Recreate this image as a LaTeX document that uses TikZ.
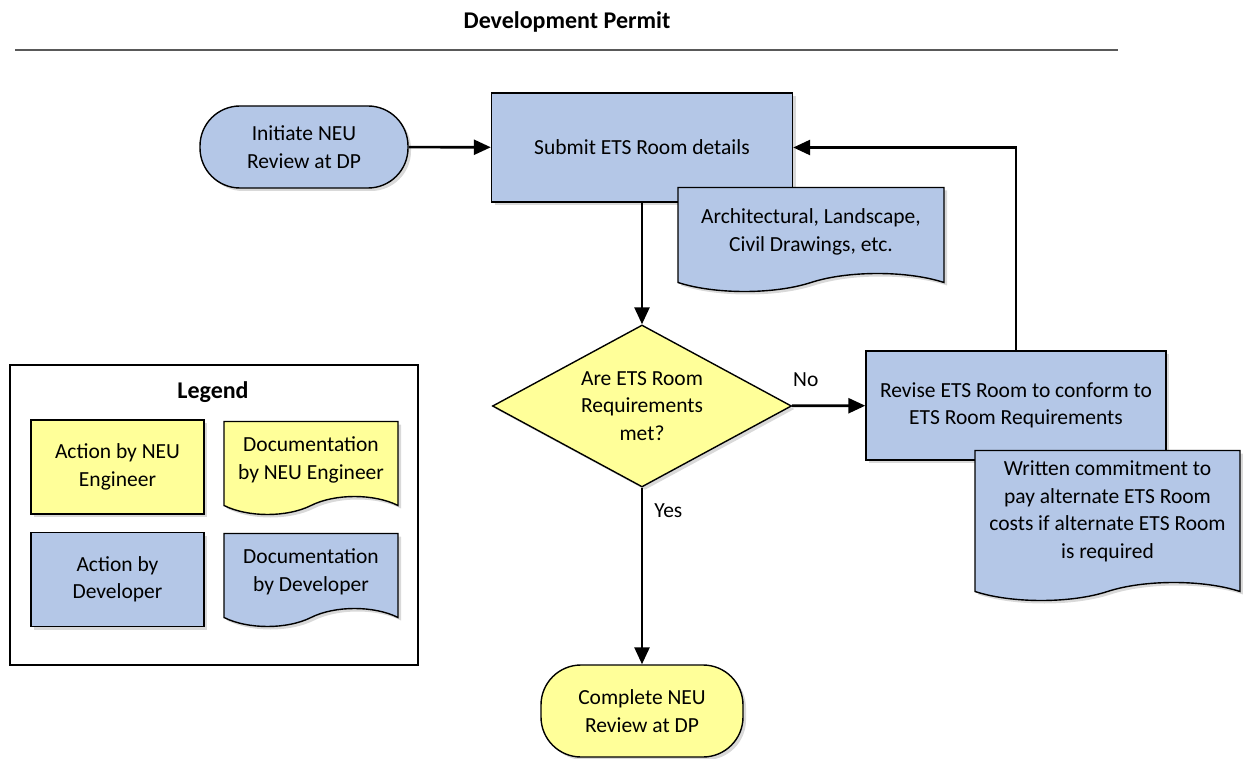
\documentclass[tikz,border=0pt]{standalone}
\usepackage{fontspec}
\setmainfont{Carlito}
\usetikzlibrary{arrows.meta,shapes.geometric,shapes.symbols,shadows}

\definecolor{devblue}{RGB}{180,199,231}
\definecolor{neuyellow}{RGB}{255,255,153}

\tikzset{
	txt/.style={font=\fontsize{21.5}{27.5}\selectfont, align=center},
	heading/.style={font=\fontsize{24}{29}\selectfont\bfseries},
	base/.style={txt, draw=black, line width=1.4pt, inner sep=2pt,
		drop shadow={shadow xshift=3pt, shadow yshift=-3pt, opacity=0.3}},
	action/.style={base, rectangle},
	terminal/.style={base, rectangle, rounded corners=40pt},
	docnode/.style={base, tape, tape bend top=none, tape bend bottom=in and out,
		tape bend height=18pt, text depth=#1},
	docnode/.default=2pt,
	decision/.style={base, diamond},
	flow/.style={line width=2.6pt, -{Triangle[length=17pt,width=15pt]}},
}

\begin{document}
\begin{tikzpicture}[x=1pt,y=1pt,yscale=-1]
	\useasboundingbox (0,0) rectangle (1243,759);

	% title
	\node[heading] (title) at (567,22) {Development Permit};
	\draw[line width=2pt, black!65] (15,50) -- (1118,50);

	% main flow
	\node[terminal, fill=devblue, minimum width=208pt, minimum height=82pt] (start) at (304,147) {Initiate NEU\\Review at DP};
	\node[action, fill=devblue, minimum width=301pt, minimum height=109pt] (submit) at (642,147.5) {Submit ETS Room details};
	\node[docnode=1pt, fill=devblue, minimum width=266pt, minimum height=104pt] (drawings) at (811,230.5) {Architectural, Landscape,\\Civil Drawings, etc.};
	\node[decision, fill=neuyellow, minimum width=299pt, minimum height=162pt,
		label={[txt]center:Are ETS Room\\Requirements\\met?}] (check) at (642,406) {};
	\node[action, fill=devblue, minimum width=300pt, minimum height=109pt] (revise) at (1016,405.5) {Revise ETS Room to conform to\\ETS Room Requirements};
	\node[docnode=14pt, fill=devblue, minimum width=265pt, minimum height=150pt] (commit) at (1107.5,516.5) {Written commitment to\\pay alternate ETS Room\\costs if alternate ETS Room\\is required};
	\node[terminal, fill=neuyellow, minimum width=202pt, minimum height=92pt] (finish) at (642,711) {Complete NEU\\Review at DP};

	% connectors
	\draw[flow] (start) -- (submit);
	\draw[flow] (submit) -- (check);
	\draw[flow] (check) -- node[txt, pos=0, anchor=south west, inner xsep=0pt, inner ysep=18pt] {No} (revise);
	\draw[flow] (check) -- node[txt, pos=0, anchor=north west, inner xsep=11pt, inner ysep=15pt] {Yes} (finish);
	\draw[flow] (revise.north) |- (submit.east);

	% legend
	\node[draw, line width=1.2pt, minimum width=408pt, minimum height=300pt] (legend) at (214,515) {};
	\node[heading] (legendtitle) at (213,392) {Legend};
	\node[action, fill=neuyellow, minimum width=173pt, minimum height=94pt] (lgneu) at (117.5,467) {Action by NEU\\Engineer};
	\node[docnode, fill=neuyellow, minimum width=174pt, minimum height=93pt] (lgneudoc) at (311,459) {Documentation\\by NEU Engineer};
	\node[action, fill=devblue, minimum width=173pt, minimum height=94pt] (lgdev) at (117.5,579.5) {Action by\\Developer};
	\node[docnode, fill=devblue, minimum width=174pt, minimum height=93pt] (lgdevdoc) at (311,571) {Documentation\\by Developer};

\end{tikzpicture}
\end{document}
